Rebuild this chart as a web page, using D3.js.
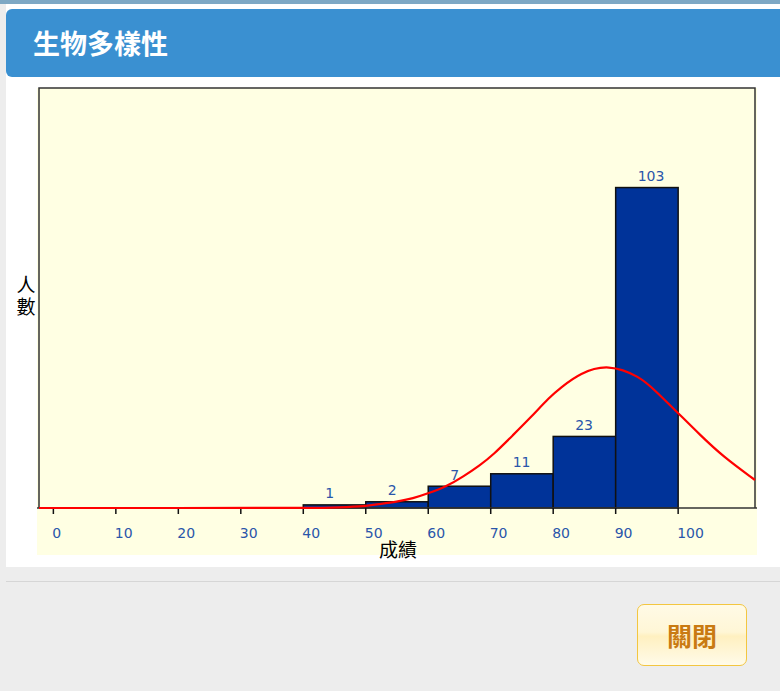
<!DOCTYPE html>
<html>
<head>
<meta charset="utf-8">
<script src="https://cdn.jsdelivr.net/npm/d3@7"></script>
<style>
    body { margin: 0; width: 780px; height: 691px; background: #ededed; overflow: hidden;
           font-family: "Noto Sans CJK TC", "Noto Sans", sans-serif; position: relative; }
    #backdrop { position: absolute; left: 0; top: 0; width: 780px; height: 4px; background: #7ea8c4; }
    #dialog { position: absolute; left: 6px; top: 4px; width: 780px; height: 563px; background: #ffffff; }
    #title { position: absolute; left: 6px; top: 9px; width: 790px; height: 68px; background: #3a90d1;
             border-radius: 6px; color: #fff; font-weight: bold; font-size: 27px; line-height: 68px;
             padding-left: 27px; box-sizing: border-box; }
    #sep { position: absolute; left: 6px; top: 581px; width: 780px; height: 1px; background: #d6d6d6; }
    #close { position: absolute; left: 637px; top: 604px; width: 110px; height: 62px; box-sizing: border-box;
             border: 1px solid #f3c640; border-radius: 7px; color: #c97a12; font-weight: bold; font-size: 25px;
             text-align: center; line-height: 60px;
             background: linear-gradient(#fffae6 0%, #fff6d6 45%, #fff0c0 52%, #fffbe9 100%); }
    #chart { position: absolute; left: 0; top: 0; }
</style>
</head>
<body>
<div id="backdrop"></div>
<div id="dialog"></div>
<div id="title">生物多樣性</div>
<div id="sep"></div>
<div id="close">關閉</div>
<svg id="chart" width="780" height="570"></svg>
<script>
function init(){
    // histogram bins (score ranges) and counts
    var binStarts = [40, 50, 60, 70, 80, 90];
    var counts = [1, 2, 7, 11, 23, 103];
    var xTicks = [0, 10, 20, 30, 40, 50, 60, 70, 80, 90, 100];

    // fitted curve
    var curveScores = [-2.3, -2.3, 20, 40, 44.3, 49.1, 52.3, 54.9, 57.6, 60.0, 62.9, 65.6, 68.3, 70.4, 73.6,
                       76.3, 79.5, 81.1, 84.3, 88.8, 93.9, 96.5, 100.0, 103.5, 107.2, 112.3, 112.3];
    var curveCounts = [0, 0, 0, 0, 0.1, 0.4, 1.3, 2.0, 3.1, 4.7, 6.9, 10.1, 13.8, 17.1, 23.5,
                       28.9, 35.8, 38.5, 43.4, 46.3, 42.3, 37.4, 30.5, 23.5, 16.5, 9.0, 9.0];

    var left = 39, right = 755, top = 88, bottom = 508;

    var svg = d3.select('#chart');

    // plot background
    svg.append('rect')
        .attr('x', 37).attr('y', top)
        .attr('width', 720).attr('height', 555 - top)
        .attr('fill', '#ffffe3');

    var xScale = d3.scaleLinear()
                    .domain([-2.3, 112.3])
                    .range([left, right]);

    var yScale = d3.scaleLinear()
                    .domain([0, 135])
                    .range([bottom, top]);

    // frame
    svg.append('path')
        .attr('d', 'M' + left + ',' + bottom + 'V' + top + 'H' + right + 'V' + bottom)
        .attr('fill', 'none')
        .attr('stroke', '#333')
        .attr('stroke-width', 1.5);

    // bars
    svg.selectAll('rect.bar')
        .data(counts)
        .enter()
        .append('rect')
        .attr('class', 'bar')
        .attr('x', function(d, i){ return xScale(binStarts[i]); })
        .attr('y', function(d){ return yScale(d); })
        .attr('width', function(d, i){ return xScale(binStarts[i] + 10) - xScale(binStarts[i]); })
        .attr('height', function(d){ return bottom - yScale(d); })
        .attr('fill', '#003399')
        .attr('stroke', '#111')
        .attr('stroke-width', 1.5);

    // value labels
    svg.selectAll('text.val')
        .data(counts)
        .enter()
        .append('text')
        .attr('class', 'val')
        .attr('x', function(d, i){ return xScale(binStarts[i]) + 22; })
        .attr('y', function(d){ return yScale(d) - 6.5; })
        .attr('font-family', 'DejaVu Sans, Verdana, sans-serif')
        .attr('font-size', '14px')
        .attr('fill', '#2a56aa')
        .text(function(d){ return d; });

    // baseline
    svg.append('line')
        .attr('x1', 37).attr('x2', 757)
        .attr('y1', bottom).attr('y2', bottom)
        .attr('stroke', '#333')
        .attr('stroke-width', 1.5);

    // ticks and tick labels
    svg.selectAll('line.tick')
        .data(xTicks)
        .enter()
        .append('line')
        .attr('class', 'tick')
        .attr('x1', function(d){ return xScale(d); })
        .attr('x2', function(d){ return xScale(d); })
        .attr('y1', bottom)
        .attr('y2', bottom + 6)
        .attr('stroke', '#111')
        .attr('stroke-width', 1.5);

    svg.selectAll('text.tick')
        .data(xTicks)
        .enter()
        .append('text')
        .attr('class', 'tick')
        .attr('x', function(d){ return xScale(d) - 1; })
        .attr('y', 538)
        .attr('font-family', 'DejaVu Sans, Verdana, sans-serif')
        .attr('font-size', '14px')
        .attr('fill', '#2a56aa')
        .text(function(d){ return d; });

    // red curve (smoothed through the read points)
    var pts = curveScores.map(function(s, i){ return [s, curveCounts[i]]; });
    var line = d3.line()
                .x(function(d){ return xScale(d[0]); })
                .y(function(d){ return yScale(d[1]); })
                .curve(d3.curveBasis);

    svg.append('path')
        .datum(pts)
        .attr('d', line)
        .attr('fill', 'none')
        .attr('stroke', '#ff0000')
        .attr('stroke-width', 2.2);

    // axis titles
    svg.append('text')
        .attr('x', 398).attr('y', 557)
        .attr('text-anchor', 'middle')
        .attr('font-size', '19px')
        .attr('fill', '#000')
        .text('成績');

    svg.append('text')
        .attr('x', 26).attr('y', 297)
        .attr('text-anchor', 'middle')
        .attr('font-size', '19px')
        .attr('letter-spacing', '3px')
        .style('writing-mode', 'vertical-rl')
        .attr('fill', '#000')
        .text('人數');
}

window.onload = init;
</script>
</body>
</html>
